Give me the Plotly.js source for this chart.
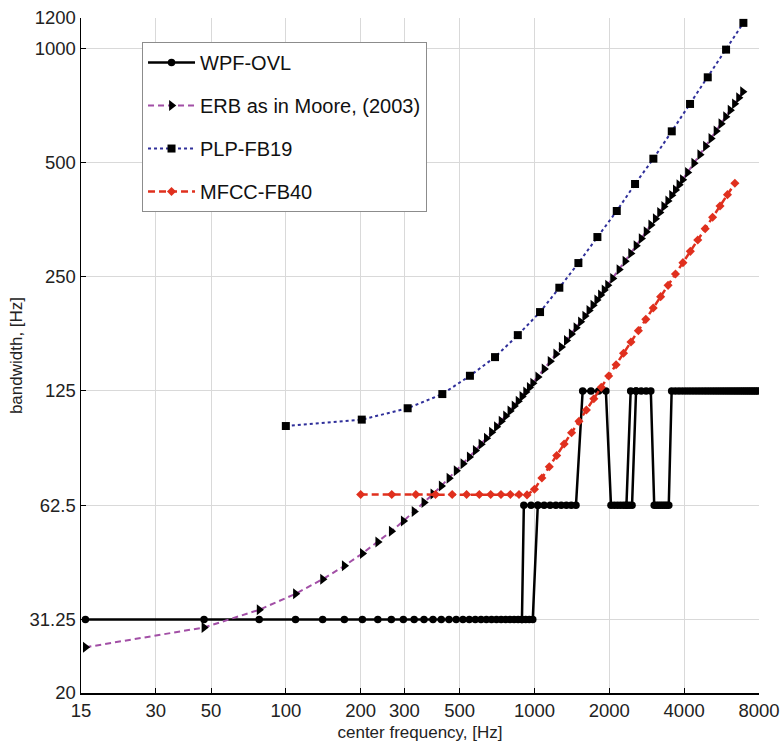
<!DOCTYPE html>
<html>
<head>
<meta charset="utf-8">
<script src="https://cdn.plot.ly/plotly-3.0.1.min.js"></script>
<style>html,body{margin:0;padding:0;background:#fff;}#chart{width:782px;height:745px;}</style>
</head>
<body>
<div id="chart"></div>
<script>
// ---- WPF-OVL (center frequency, bandwidth); null = break in the line ----
var wpfFreq = [15.625, 46.875, 78.125, 109.375, 140.625, 171.875, 203.125, 234.375, 265.625, 296.875,
  328.125, 359.375, 390.625, 421.875, 453.125, 484.375, 515.625, 546.875, 578.125, 609.375,
  640.625, 671.875, 703.125, 734.375, 765.625, 796.875, 828.125, 859.375, 890.625,
  906.25, 968.75, 1031.25, 1093.75, 1156.25, 1218.75, 1281.25, 1343.75, 1406.25, 1468.75,
  1562.5, 1687.5, 1812.5, 1937.5,
  2031.25, 2093.75, 2156.25, 2218.75, 2281.25, 2343.75, 2406.25, 2468.75,
  2562.5, 2687.5, 2812.5, 2937.5,
  3031.25, 3093.75, 3156.25, 3218.75, 3281.25, 3343.75, 3406.25, 3468.75,
  3562.5, 3687.5, 3812.5, 3937.5, 4062.5, 4187.5, 4312.5, 4437.5, 4562.5, 4687.5,
  4812.5, 4937.5, 5062.5, 5187.5, 5312.5, 5437.5, 5562.5, 5687.5, 5812.5, 5937.5,
  6062.5, 6187.5, 6312.5, 6437.5, 6562.5, 6687.5, 6812.5, 6937.5, 7062.5, 7187.5,
  7312.5, 7437.5, 7562.5, 7687.5, 7812.5, 7937.5,
  null,
  890.625, 921.875, 953.125, 984.375, 1031.25,
  null,
  2343.75, 2437.5, 2562.5];
var wpfBW = [31.25, 31.25, 31.25, 31.25, 31.25, 31.25, 31.25, 31.25, 31.25, 31.25,
  31.25, 31.25, 31.25, 31.25, 31.25, 31.25, 31.25, 31.25, 31.25, 31.25,
  31.25, 31.25, 31.25, 31.25, 31.25, 31.25, 31.25, 31.25, 31.25,
  62.5, 62.5, 62.5, 62.5, 62.5, 62.5, 62.5, 62.5, 62.5, 62.5,
  125, 125, 125, 125,
  62.5, 62.5, 62.5, 62.5, 62.5, 62.5, 62.5, 62.5,
  125, 125, 125, 125,
  62.5, 62.5, 62.5, 62.5, 62.5, 62.5, 62.5, 62.5,
  125, 125, 125, 125, 125, 125, 125, 125, 125, 125,
  125, 125, 125, 125, 125, 125, 125, 125, 125, 125,
  125, 125, 125, 125, 125, 125, 125, 125, 125, 125,
  125, 125, 125, 125, 125, 125,
  null,
  31.25, 31.25, 31.25, 31.25, 62.5,
  null,
  62.5, 125, 125];

// ---- ERB as in Moore (2003) ----
var erbFreq = [15.625, 46.875, 78.125, 109.375, 140.625, 171.875, 203.125, 234.375, 265.625, 296.875,
  328.125, 359.375, 390.625, 421.875, 453.125, 484.375, 515.625, 546.875, 578.125, 609.375,
  640.625, 671.875, 703.125, 734.375, 765.625, 796.875, 828.125, 859.375, 890.625, 921.875,
  953.125, 984.375,
  1031.25, 1093.75, 1156.25, 1218.75, 1281.25, 1343.75, 1406.25, 1468.75, 1531.25, 1593.75,
  1656.25, 1718.75, 1781.25, 1843.75, 1906.25, 1968.75,
  2062.5, 2187.5, 2312.5, 2437.5, 2562.5, 2687.5, 2812.5, 2937.5, 3062.5, 3187.5,
  3312.5, 3437.5, 3562.5, 3687.5, 3812.5, 3937.5,
  4125, 4375, 4625, 4875, 5125, 5375, 5625, 5875, 6125, 6375, 6625, 6875];
var erbBW = [26.39, 29.76, 33.13, 36.51, 39.88, 43.25, 46.63, 50.00, 53.37, 56.74,
  60.12, 63.49, 66.86, 70.24, 73.61, 76.98, 80.36, 83.73, 87.10, 90.48,
  93.85, 97.22, 100.60, 103.97, 107.34, 110.71, 114.09, 117.46, 120.83, 124.21,
  127.58, 130.95,
  136.01, 142.76, 149.50, 156.25, 163.00, 169.74, 176.49, 183.23, 189.98, 196.73,
  203.47, 210.22, 216.96, 223.71, 230.46, 237.20,
  247.32, 260.82, 274.31, 287.80, 301.29, 314.79, 328.28, 341.77, 355.26, 368.76,
  382.25, 395.74, 409.23, 422.73, 436.22, 449.71,
  469.95, 496.93, 523.92, 550.90, 577.89, 604.87, 631.86, 658.84, 685.83, 712.81, 739.80, 766.78];

// ---- PLP-FB19 ----
var plpFreq = [100, 202, 309, 426, 550, 694, 857, 1053, 1259, 1502, 1791, 2143, 2538, 3008, 3566, 4224, 4977, 5897, 6923];
var plpBW = [101, 105, 112.5, 122.6, 137, 153.4, 175.3, 201.6, 233.7, 271.4, 317.8, 372.2, 438.4, 511.2, 603.4, 712.4, 837.4, 990.6, 1165];

// ---- MFCC-FB40 ----
var mfccFreq = [200, 266.7, 333.3, 400, 466.7, 533.3, 600, 666.7, 733.3, 800, 866.7, 933.3,
  999.8, 1070.9, 1147.1, 1228.8, 1316.2, 1409.9, 1510.2, 1617.7, 1732.9, 1856.2, 1988.3, 2129.8,
  2281.4, 2443.7, 2617.7, 2804.0, 3003.5, 3217.3, 3446.2, 3691.5, 3954.3, 4235.7, 4537.1, 4860.0,
  5205.9, 5576.4, 5973.3, 6398.4];
var mfccBW = [66.7, 66.7, 66.7, 66.7, 66.7, 66.7, 66.7, 66.7, 66.7, 66.7, 66.7, 66.5,
  68.8, 73.7, 78.9, 84.5, 90.6, 97.0, 103.9, 111.3, 119.2, 127.7, 136.8, 146.5,
  157.0, 168.1, 180.1, 192.9, 206.7, 221.4, 237.1, 254.0, 272.1, 291.4, 312.2, 334.4,
  358.2, 383.7, 411.0, 440.3];

var xTicks = [15, 30, 50, 100, 200, 300, 500, 1000, 2000, 4000, 8000];
var xTickText = ['15', '30', '50', '100', '200', '300', '500', '1000', '2000', '4000', '8000'];
var yTicks = [20, 31.25, 62.5, 125, 250, 500, 1000, 1200];
var yTickText = ['20', '31.25', '62.5', '125', '250', '500', '1000', '1200'];
var seriesNames = ['WPF-OVL', 'ERB as in Moore, (2003)', 'PLP-FB19', 'MFCC-FB40'];

var traces = [
  {x: wpfFreq, y: wpfBW, name: seriesNames[0], legendgroup: 'a', mode: 'lines+markers', connectgaps: false,
   line: {color: '#000000', width: 2.5}, marker: {symbol: 'circle', size: 7.5, color: '#000000'}},
  {x: erbFreq, y: erbBW, name: seriesNames[1], legendgroup: 'b', mode: 'lines+markers',
   line: {color: '#a24fa6', width: 2, dash: '6px,4px'}, marker: {symbol: 'triangle-right', size: 9.5, color: '#000000'}},
  {x: plpFreq, y: plpBW, name: seriesNames[2], legendgroup: 'c', mode: 'lines+markers',
   line: {color: '#2f2f9a', width: 2, dash: 'dot'}, marker: {symbol: 'square', size: 8, color: '#000000'}},
  {x: mfccFreq, y: mfccBW, name: seriesNames[3], legendgroup: 'd', mode: 'lines+markers',
   line: {color: '#e0301e', width: 2.5, dash: '7px,4px'}, marker: {symbol: 'diamond', size: 7, color: '#e0301e'}}
];

var axisFont = {family: 'Liberation Sans, Arial, sans-serif', size: 18.5, color: '#222'};
var layout = {
  width: 782, height: 745,
  margin: {l: 81, r: 23, t: 18, b: 52},
  paper_bgcolor: '#ffffff', plot_bgcolor: '#ffffff',
  showlegend: true,
  legend: {x: 0.09, y: 0.9644, xanchor: 'left', yanchor: 'top', bgcolor: '#ffffff',
    bordercolor: '#8c8c8c', borderwidth: 1, traceorder: 'grouped', tracegroupgap: 14, itemwidth: 47,
    font: {family: 'Liberation Sans, Arial, sans-serif', size: 20, color: '#111'}},
  xaxis: {type: 'log', range: [Math.log10(15), Math.log10(8000)], tickmode: 'array',
    tickvals: xTicks, ticktext: xTickText, ticks: 'inside', ticklen: 5, tickcolor: '#000',
    showline: true, linecolor: '#000', linewidth: 1.5, showgrid: true, gridcolor: '#d9d9d9', gridwidth: 1,
    tickfont: axisFont, zeroline: false,
    title: {text: 'center frequency, [Hz]', font: {family: 'Liberation Sans, Arial, sans-serif', size: 17, color: '#222'}, standoff: 6}},
  yaxis: {type: 'log', range: [Math.log10(20), Math.log10(1200)], tickmode: 'array',
    tickvals: yTicks, ticktext: yTickText, ticks: 'inside', ticklen: 5, tickcolor: '#000',
    showline: true, linecolor: '#000', linewidth: 1.5, showgrid: true, gridcolor: '#d9d9d9', gridwidth: 1,
    tickfont: axisFont, zeroline: false,
    title: {text: 'bandwidth, [Hz]', font: {family: 'Liberation Sans, Arial, sans-serif', size: 17, color: '#222'}, standoff: 2}}
};

Plotly.newPlot('chart', traces, layout, {displayModeBar: false, staticPlot: true});
</script>
</body>
</html>
